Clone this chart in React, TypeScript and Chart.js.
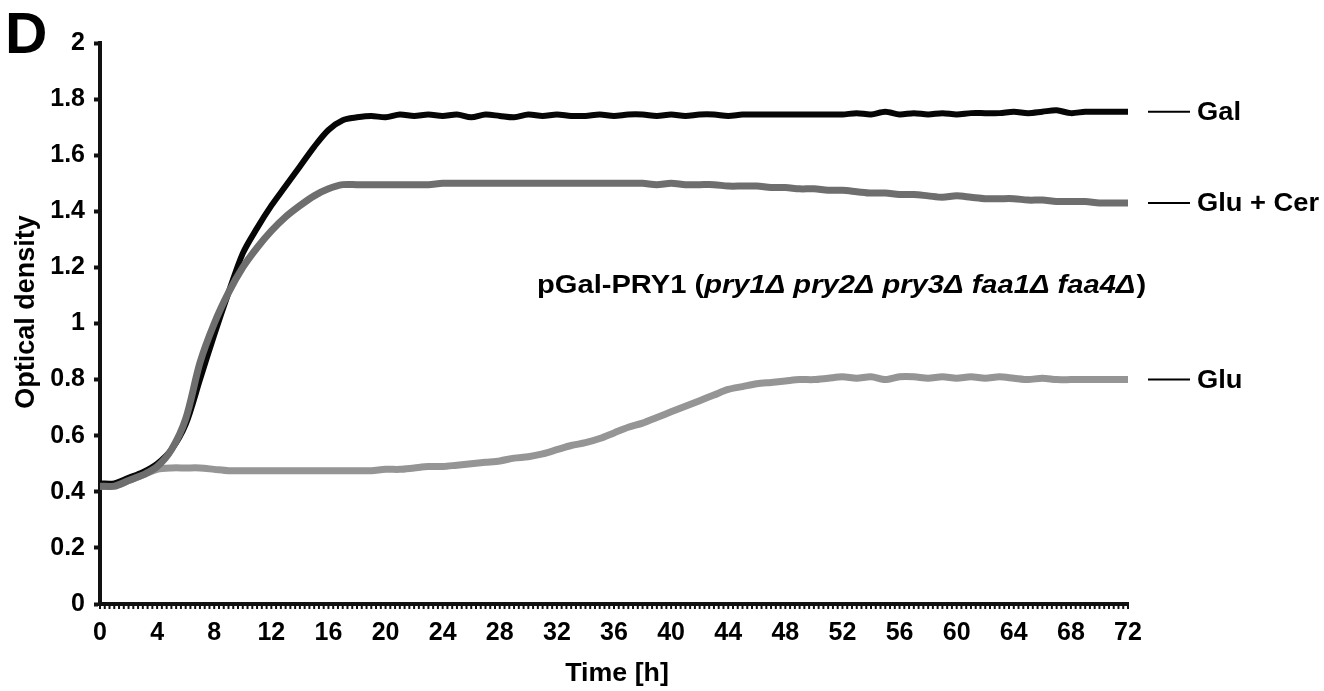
import React, { useEffect, useRef } from "react";
import { Chart, registerables } from "chart.js";

Chart.register(...registerables);

// ---- data ----
const hours = [
  0, 1, 2, 3, 4, 5, 6, 7, 8, 9, 10, 11, 12, 13, 14, 15, 16, 17, 18, 19, 20, 21, 22, 23, 24,
  25, 26, 27, 28, 29, 30, 31, 32, 33, 34, 35, 36, 37, 38, 39, 40, 41, 42, 43, 44, 45, 46, 47, 48,
  49, 50, 51, 52, 53, 54, 55, 56, 57, 58, 59, 60, 61, 62, 63, 64, 65, 66, 67, 68, 69, 70, 71, 72,
];

const gal = [
  0.43, 0.43, 0.45, 0.47, 0.5, 0.55, 0.64, 0.8, 0.96, 1.11, 1.25, 1.34, 1.42, 1.49, 1.56, 1.63,
  1.69, 1.725, 1.735, 1.74, 1.735, 1.745, 1.74, 1.745, 1.74, 1.745, 1.735, 1.745, 1.74, 1.735,
  1.745, 1.74, 1.745, 1.74, 1.74, 1.745, 1.74, 1.745, 1.745, 1.74, 1.745, 1.74, 1.745, 1.745,
  1.74, 1.745, 1.745, 1.745, 1.745, 1.745, 1.745, 1.745, 1.745, 1.75, 1.745, 1.755, 1.745, 1.75,
  1.745, 1.75, 1.745, 1.75, 1.75, 1.75, 1.755, 1.75, 1.755, 1.76, 1.75, 1.755, 1.755, 1.755, 1.755,
];

const gluCer = [
  0.42, 0.42, 0.44, 0.46, 0.49, 0.55, 0.66, 0.86, 1.0, 1.11, 1.2, 1.27, 1.33, 1.38, 1.42, 1.455,
  1.48, 1.495, 1.495, 1.495, 1.495, 1.495, 1.495, 1.495, 1.5, 1.5, 1.5, 1.5, 1.5, 1.5, 1.5, 1.5,
  1.5, 1.5, 1.5, 1.5, 1.5, 1.5, 1.5, 1.495, 1.5, 1.495, 1.495, 1.495, 1.49, 1.49, 1.49, 1.485,
  1.485, 1.48, 1.48, 1.475, 1.475, 1.47, 1.465, 1.465, 1.46, 1.46, 1.455, 1.45, 1.455, 1.45,
  1.445, 1.445, 1.445, 1.44, 1.44, 1.435, 1.435, 1.435, 1.43, 1.43, 1.43,
];

const glu = [
  0.42, 0.42, 0.44, 0.46, 0.48, 0.485, 0.485, 0.485, 0.48, 0.475, 0.475, 0.475, 0.475, 0.475,
  0.475, 0.475, 0.475, 0.475, 0.475, 0.475, 0.48, 0.48, 0.485, 0.49, 0.49, 0.495, 0.5, 0.505,
  0.51, 0.52, 0.525, 0.535, 0.55, 0.565, 0.575, 0.59, 0.61, 0.63, 0.645, 0.665, 0.685, 0.705,
  0.725, 0.745, 0.765, 0.775, 0.785, 0.79, 0.795, 0.8, 0.8, 0.805, 0.81, 0.805, 0.81, 0.8, 0.81,
  0.81, 0.805, 0.81, 0.805, 0.81, 0.805, 0.81, 0.805, 0.8, 0.805, 0.8, 0.8, 0.8, 0.8, 0.8, 0.8,
];

const seriesNames = ["Gal", "Glu + Cer", "Glu"];
const seriesColors = ["#060606", "#6e6e6e", "#959595"];
const xTickLabels = ["0", "4", "8", "12", "16", "20", "24", "28", "32", "36", "40", "44", "48", "52", "56", "60", "64", "68", "72"];
const yTickLabels = ["0", "0.2", "0.4", "0.6", "0.8", "1", "1.2", "1.4", "1.6", "1.8", "2"];
const panelLabel = "D";
const xTitle = "Time [h]";
const yTitle = "Optical density";
const noteNormal = "pGal-PRY1 (";
const noteItalic = "pry1Δ pry2Δ pry3Δ faa1Δ faa4Δ";
const noteClose = ")";

const FONT = "'Liberation Sans', Arial, Helvetica, sans-serif";

function stretchText(ctx: CanvasRenderingContext2D, text: string, x: number, y: number, sx: number) {
  ctx.save();
  ctx.translate(x, y);
  ctx.scale(sx, 1);
  ctx.fillText(text, 0, 0);
  ctx.restore();
  return ctx.measureText(text).width * sx;
}

const overlayPlugin = {
  id: "overlay",
  afterDraw(chart: any) {
    const ctx = chart.ctx;
    const xs = chart.scales.x;
    const ys = chart.scales.y;
    const area = chart.chartArea;
    ctx.save();
    // minor ticks under x axis
    ctx.strokeStyle = "#111";
    ctx.lineWidth = 2;
    for (let i = 0; i <= 216; i++) {
      const px = xs.getPixelForValue(i / 3);
      ctx.beginPath();
      ctx.moveTo(px, area.bottom);
      ctx.lineTo(px, area.bottom + 5);
      ctx.stroke();
    }
    ctx.fillStyle = "#000";
    // panel label
    ctx.font = `bold 57px ${FONT}`;
    ctx.textAlign = "left";
    ctx.textBaseline = "alphabetic";
    stretchText(ctx, panelLabel, 5, 53, 1.03);
    // x title
    ctx.font = `bold 26px ${FONT}`;
    ctx.textAlign = "center";
    ctx.textBaseline = "middle";
    stretchText(ctx, xTitle, 617, 674, 1.03);
    // y title
    ctx.save();
    ctx.translate(27, 312);
    ctx.rotate(-Math.PI / 2);
    ctx.font = `bold 27px ${FONT}`;
    ctx.fillText(yTitle, 0, 0);
    ctx.restore();
    // center note
    ctx.textAlign = "left";
    ctx.textBaseline = "middle";
    const sx = 1.12;
    let nx = 537;
    const ny = 286;
    ctx.font = `bold 26px ${FONT}`;
    nx += stretchText(ctx, noteNormal, nx, ny, sx);
    ctx.font = `italic bold 26px ${FONT}`;
    nx += stretchText(ctx, noteItalic, nx, ny, sx) + 1;
    ctx.font = `bold 26px ${FONT}`;
    stretchText(ctx, noteClose, nx, ny, sx);
    // right labels
    const ends = [gal[gal.length - 1], gluCer[gluCer.length - 1], glu[glu.length - 1]];
    ctx.font = `bold 26px ${FONT}`;
    ctx.strokeStyle = "#000";
    ctx.lineWidth = 2;
    ends.forEach((v, i) => {
      const py = ys.getPixelForValue(v);
      ctx.beginPath();
      ctx.moveTo(1148, py);
      ctx.lineTo(1190, py);
      ctx.stroke();
      stretchText(ctx, seriesNames[i], 1197, py + 1, 1.05);
    });
    ctx.restore();
  },
};

export default function App() {
  const ref = useRef<HTMLCanvasElement | null>(null);
  useEffect(() => {
    if (!ref.current) return;
    const mk = (vals: number[]) => hours.map((h, i) => ({ x: h, y: vals[i] }));
    const chart = new Chart(ref.current, {
      type: "line",
      data: {
        datasets: [
          { label: seriesNames[0], data: mk(gal), borderColor: seriesColors[0], borderWidth: 6, pointRadius: 0, tension: 0.3, order: 1 },
          { label: seriesNames[1], data: mk(gluCer), borderColor: seriesColors[1], borderWidth: 7, pointRadius: 0, tension: 0.3, order: 0 },
          { label: seriesNames[2], data: mk(glu), borderColor: seriesColors[2], borderWidth: 7, pointRadius: 0, tension: 0.3, order: 2 },
        ],
      },
      options: {
        animation: false,
        responsive: true,
        maintainAspectRatio: false,
        layout: { padding: { left: 0, right: 196, top: 43, bottom: 0 } },
        plugins: { legend: { display: false }, tooltip: { enabled: false } },
        elements: { line: { borderCapStyle: "round", borderJoinStyle: "round" } },
        scales: {
          x: {
            type: "linear",
            min: 0,
            max: 72,
            afterFit: (s: any) => { s.height = 87; },
            afterBuildTicks: (s: any) => { s.ticks = xTickLabels.map((t) => ({ value: Number(t) })); },
            ticks: {
              stepSize: 4,
              color: "#000",
              padding: 14,
              maxRotation: 0,
              autoSkip: false,
              font: { family: FONT, size: 25, weight: "bold" },
              callback: (v: any) => String(v),
            },
            grid: { display: false, drawTicks: false, tickLength: 0 },
            border: { display: true, color: "#111", width: 4 },
          },
          y: {
            min: 0,
            max: 2,
            afterFit: (s: any) => { s.width = 100; },
            afterBuildTicks: (s: any) => { s.ticks = yTickLabels.map((t) => ({ value: Number(t) })); },
            ticks: {
              stepSize: 0.2,
              color: "#000",
              padding: 9,
              autoSkip: false,
              font: { family: FONT, size: 25, weight: "bold" },
              callback: (v: any) => yTickLabels[Math.round(Number(v) / 0.2)],
            },
            grid: { display: true, drawOnChartArea: false, drawTicks: true, tickLength: 6, tickWidth: 4, color: "#111" },
            border: { display: true, color: "#111", width: 4 },
          },
        },
      },
      plugins: [overlayPlugin],
    });
    return () => chart.destroy();
  }, []);
  return (
    <div style={{ position: "absolute", left: 0, top: 0, width: 1324, height: 691, background: "#fff" }}>
      <canvas ref={ref} />
    </div>
  );
}
